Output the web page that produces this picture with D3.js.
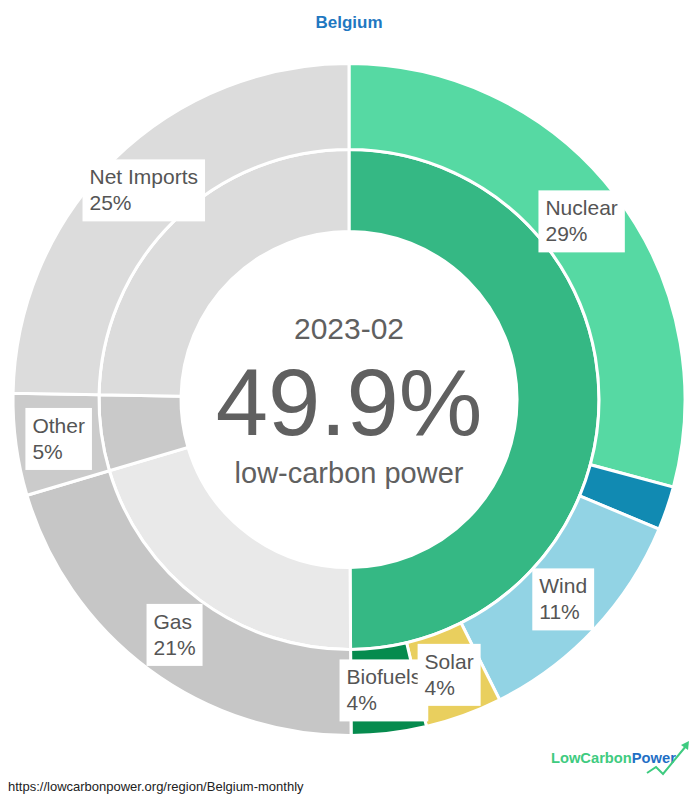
<!DOCTYPE html>
<html>
<head>
<meta charset="utf-8">
<script src="https://cdn.jsdelivr.net/npm/d3@7"></script>
<style>
  html, body { margin: 0; padding: 0; background: #fff; }
  svg { display: block; font-family: "Liberation Sans", Arial, Helvetica, sans-serif; }
</style>
</head>
<body>
<svg id="chart" width="699" height="800"></svg>
<script>
// ---- data ----
const title = "Belgium";
const period = "2023-02";
const lowCarbonShare = 49.9;
const outerNames  = ["Nuclear", "Hydro", "Wind", "Solar", "Biofuels", "Gas", "Other", "Net Imports"];
const outerValues = [29.2, 2.1, 11.3, 3.7, 3.6, 20.5, 4.9, 24.7];
const outerLabeled = [true, false, true, true, true, true, true, true];
const innerNames  = ["Low-carbon", "Fossil", "Other", "Net Imports"];
const innerValues = [49.9, 20.5, 4.9, 24.7];
const sourceUrl = "https://lowcarbonpower.org/region/Belgium-monthly";

// ---- styles ----
const outerColors = ["#56d9a3", "#118ab2", "#92d3e4", "#e9cf5e", "#068b4e", "#c6c6c6", "#cbcbcb", "#dcdcdc"];
const innerColors = ["#35b884", "#e9e9e9", "#c9c9c9", "#dcdcdc"];

const svg = d3.select("#chart");
const cx = 349, cy = 399.5;
const rOuter = 336, rMid = 250, rInner = 168;

const pie = d3.pie().sort(null).value(d => d.v);
const outerData = pie(outerNames.map((n, i) => ({ n, v: outerValues[i], c: outerColors[i], lab: outerLabeled[i] })));
const innerData = pie(innerNames.map((n, i) => ({ n, v: innerValues[i], c: innerColors[i] })));

const g = svg.append("g").attr("transform", `translate(${cx},${cy})`);
const arcOuter = d3.arc().innerRadius(rMid).outerRadius(rOuter);
const arcInner = d3.arc().innerRadius(rInner).outerRadius(rMid);

g.selectAll("path.inner").data(innerData).join("path")
  .attr("class", "inner")
  .attr("d", arcInner)
  .attr("fill", d => d.data.c)
  .attr("stroke", "#fff").attr("stroke-width", 3);

g.selectAll("path.outer").data(outerData).join("path")
  .attr("class", "outer")
  .attr("d", arcOuter)
  .attr("fill", d => d.data.c)
  .attr("stroke", "#fff").attr("stroke-width", 3);

// ---- labels ----
const labelFont = 21;
const labeled = outerData.filter(d => d.data.lab).reverse();
const lg = g.append("g");
labeled.forEach(d => {
  const [x, y] = arcOuter.centroid(d);
  const grp = lg.append("g");
  const t = grp.append("text").attr("fill", "#555").attr("font-size", labelFont);
  t.append("tspan").attr("x", 0).attr("y", -6).text(d.data.n);
  t.append("tspan").attr("x", 0).attr("y", 20).text(Math.round(d.data.v) + "%");
  const bb = t.node().getBBox();
  const w = bb.width + 14, h = 62;
  grp.insert("rect", "text")
    .attr("x", -w / 2).attr("y", -31).attr("width", w).attr("height", h)
    .attr("fill", "#fff");
  t.attr("transform", `translate(${-w / 2 + 7},0)`);
  grp.attr("transform", `translate(${x},${y})`);
});

// ---- center text ----
g.append("text").attr("text-anchor", "middle").attr("y", -61)
  .attr("font-size", 30).attr("fill", "#606060").text(period);
g.append("text").attr("text-anchor", "middle").attr("y", 35.5)
  .attr("font-size", 94).attr("fill", "#606060").text(lowCarbonShare.toFixed(1) + "%");
g.append("text").attr("text-anchor", "middle").attr("y", 83.5)
  .attr("font-size", 29).attr("fill", "#606060").text("low-carbon power");

// ---- title ----
svg.append("text").attr("x", 349).attr("y", 28).attr("text-anchor", "middle")
  .attr("font-size", 17).attr("font-weight", "bold").attr("fill", "#1f78c1").text(title);

// ---- footer ----
svg.append("text").attr("x", 8).attr("y", 791)
  .attr("font-size", 13).attr("fill", "#222").text(sourceUrl);

// ---- logo ----
const logo = svg.append("text").attr("x", 551).attr("y", 763)
  .attr("font-size", 14.7).attr("font-weight", "bold");
logo.append("tspan").attr("fill", "#3ecb80").text("LowCarbon");
logo.append("tspan").attr("fill", "#1f6fc5").text("Power");
svg.append("path")
  .attr("d", "M647,773 L656,767 L663,774 L686,746")
  .attr("fill", "none").attr("stroke", "#3ecb80").attr("stroke-width", 2);
svg.append("path")
  .attr("d", "M689,741 L681,745 L688,750 Z")
  .attr("fill", "#3ecb80");
</script>
</body>
</html>
